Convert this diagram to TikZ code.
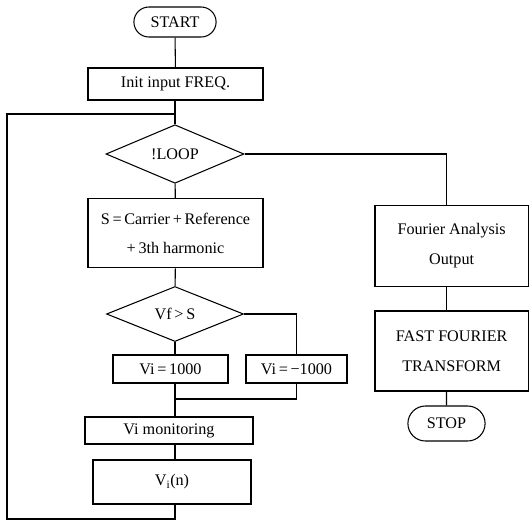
\documentclass[tikz,border=0pt]{standalone}
\usepackage{fontspec}
\setmainfont{Liberation Serif}
\usetikzlibrary{positioning, shapes.geometric, shapes.misc}

\begin{document}
\begin{tikzpicture}[
      every node/.style={font=\fontsize{13.8}{25.5}\selectfont},
      block/.style={rectangle, draw, line width=0.9pt, align=center, inner sep=2pt},
      term/.style={rounded rectangle, draw, line width=0.9pt, minimum height=0.9cm},
      cond/.style={diamond, draw, line width=0.9pt, inner sep=0pt},
      link/.style={line width=0.9pt}
    ]
      \useasboundingbox (0,0) rectangle (15.9,-15.63);

      % main column
      \node[term, minimum width=2.7cm] (start) at (5.25,-0.66) {START};
      \node[block, minimum width=5.25cm, minimum height=0.96cm] (init) at (5.265,-2.52) {Init input FREQ.};
      \node[cond, minimum width=4.14cm, minimum height=1.56cm] (loop) at (5.25,-4.62) {!LOOP};
      \node[block, minimum width=5.25cm, minimum height=2.07cm] (sum) at (5.265,-7.0) {S\,=\,Carrier\,+\,Reference\\+\,3th harmonic};
      \node[cond, minimum width=4.11cm, minimum height=1.65cm] (cmp) at (5.25,-9.42) {Vf\,>\,S};
      \node[block, minimum width=3.45cm, minimum height=0.84cm] (vpos) at (5.115,-11.07) {Vi\,=\,1000};
      \node[block, minimum width=3.03cm, minimum height=0.84cm] (vneg) at (8.895,-11.07) {Vi\,=\,−1000};
      \node[block, minimum width=5.04cm, minimum height=0.81cm] (mon) at (5.07,-12.915) {Vi monitoring};
      \node[block, minimum width=4.74cm, minimum height=1.32cm] (vin) at (5.16,-14.46) {V\textsubscript{i}(n)};

      % right column
      \node[block, minimum width=4.6cm, minimum height=2.43cm] (four) at (13.55,-7.37) {Fourier Analysis\\Output};
      \node[block, minimum width=4.6cm, minimum height=2.4cm] (fft) at (13.55,-10.53) {FAST FOURIER\\TRANSFORM};
      \node[term, minimum width=2.55cm, minimum height=1.05cm] (stop) at (13.395,-12.705) {STOP};

      \coordinate (join) at (5.25,-3.42);
      \coordinate (merge) at (5.25,-11.97);
      \coordinate (back) at (0.21,-15.57);

      \draw[link] (start) -- (init);
      \draw[link] (init.south -| join) -- (loop.north);
      \draw[link] (loop) -- (sum);
      \draw[link] (sum) -- (cmp);
      \draw[link] (cmp.south) -- (cmp.south |- vpos.north);
      \draw[link] (cmp.east) -| (vneg.north);
      \draw[link] (merge |- vpos.south) -- (merge) -| (vneg.south);
      \draw[link] (merge) -- (merge |- mon.north);
      \draw[link] (merge |- mon.south) -- (merge |- vin.north);
      \draw[link] (merge |- vin.south) |- (back) |- (join);
      \draw[link] (loop.east) -| (four.north -| stop);
      \draw[link] (four.south -| stop) -- (fft.north -| stop);
      \draw[link] (fft.south -| stop) -- (stop);
    \end{tikzpicture}
\end{document}
